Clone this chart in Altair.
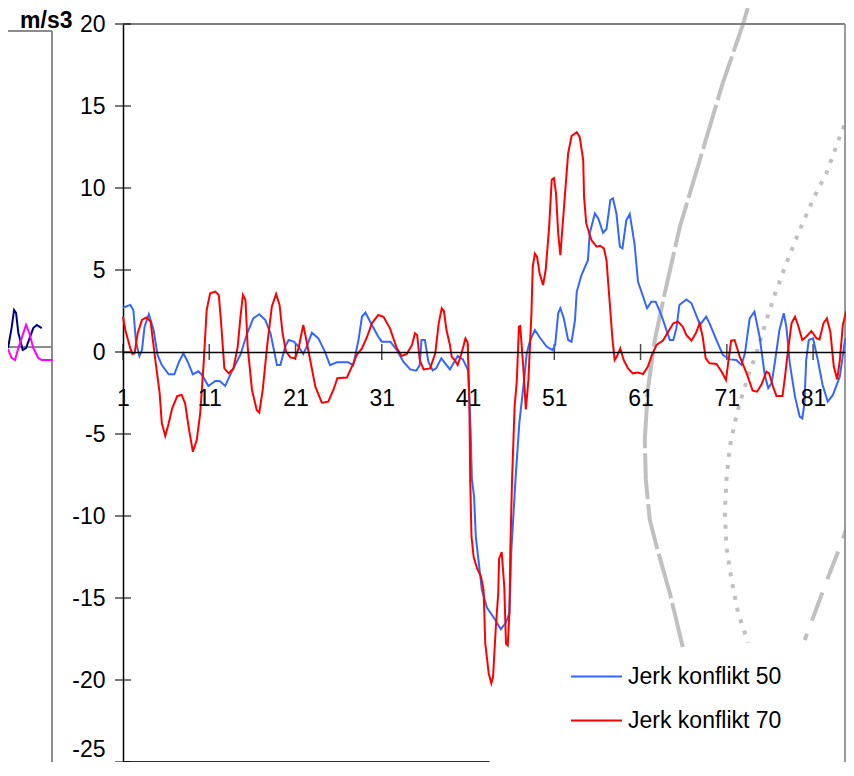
import altair as alt
import pandas as pd

# ---------------- data ----------------
series_names = ["Jerk konflikt 50", "Jerk konflikt 70"]
series_colors = ["#3366FF", "#FF0000"]

blue_x = [1.0, 1.85, 2.2, 2.5, 2.9, 3.2, 3.5, 4.0, 4.55, 5.0, 5.5, 6.3, 6.95, 7.5, 8.0, 8.5, 9.1, 9.75,
          10.15, 10.9, 11.7, 12.2, 12.85, 13.6, 14.6, 15.4, 16.1, 16.8, 17.5, 18.1, 18.85, 19.25, 19.8,
          20.2, 20.8, 21.35, 21.9, 22.3, 22.9, 23.65, 24.4, 25.0, 25.8, 27.1, 27.7, 28.3, 28.7, 29.1,
          29.85, 30.6, 31.0, 32.0, 32.75, 33.5, 34.3, 35.0, 35.4, 35.6, 36.0, 36.4, 36.9, 37.3, 37.9,
          38.9, 39.8, 40.4, 41.0, 41.3, 41.45, 41.7, 41.9, 42.3, 42.6, 43.2, 44.0, 44.8, 45.4, 45.8,
          46.0, 46.5, 46.95, 47.5, 47.8, 48.2, 48.75, 49.3, 50.1, 50.8, 51.1, 51.45, 51.7, 52.1, 52.6,
          53.0, 53.4, 53.6, 54.15, 54.9, 55.1, 55.7, 56.1, 56.65, 57.05, 57.5, 57.8, 58.2, 58.6, 58.9,
          59.35, 59.75, 60.3, 60.7, 61.3, 61.75, 62.25, 62.75, 63.4, 64.4, 64.8, 65.15, 65.5, 66.3,
          66.9, 67.9, 68.6, 69.0, 69.8, 70.55, 71.3, 72.1, 72.7, 73.1, 73.65, 74.2, 74.8, 75.4, 75.8,
          76.2, 76.55, 77.1, 77.6, 77.9, 78.3, 78.9, 79.45, 79.75, 80.0, 80.2, 80.5, 81.0, 81.55, 82.1,
          82.7, 83.3, 84.1, 84.7, 85.25, 85.6]
blue_y = [2.7, 2.87, 2.56, 0.63, -0.24, 0.12, 1.54, 2.3, 1.34, -0.18, -0.8, -1.36, -1.36, -0.59, -0.08,
          -0.59, -1.36, -1.18, -1.4, -2.07, -1.77, -1.77, -2.07, -1.2, -0.18, 1.14, 2.05, 2.3, 1.95, 1.14,
          -0.8, -0.8, 0.33, 0.73, 0.63, 0.33, -0.12, 0.33, 1.18, 0.83, 0.02, -0.8, -0.63, -0.63, -0.8,
          0.73, 2.15, 2.4, 1.65, 0.93, 0.63, 0.63, 0.12, -0.59, -1.06, -1.14, -0.8, 0.73, 0.73, -0.59,
          -1.12, -1.0, -0.39, -1.06, -0.24, -0.45, -1.1, -4.76, -7.8, -8.8, -11.26, -13.1, -14.5, -15.6,
          -16.2, -16.9, -16.5, -15.9, -12.3, -7.8, -4.3, -1.7, -0.1, 0.73, 1.34, 0.9, 0.33, 0.12, 0.43,
          2.36, 2.67, 2.06, 0.73, 0.63, 1.95, 3.67, 4.69, 5.6, 7.23, 8.45, 8.14, 7.27, 7.5, 9.27, 9.37,
          8.45, 6.42, 6.32, 8.04, 8.41, 6.6, 4.3, 3.37, 2.67, 3.07, 3.07, 2.26, 0.73, 0.73, 1.44, 2.87,
          3.2, 2.97, 1.65, 2.15, 1.75, 0.73, -0.18, -0.45, -0.49, -0.79, -0.08, 2.05, 2.46, 0.93, -1.4,
          -2.2, -1.9, -0.69, 1.34, 2.36, 1.54, -0.69, -2.72, -3.94, -4.05, -3.13, -0.49, 0.73, 0.83,
          -0.49, -2.0, -3.03, -2.62, -1.5, 0.73, 1.04, 1.14]

red_x = [1.0, 1.27, 1.85, 2.1, 2.35, 2.7, 3.2, 3.7, 4.2, 4.75, 5.25, 5.5, 5.9, 6.3, 6.7, 7.3, 7.8, 8.2,
         8.6, 9.1, 9.55, 9.95, 10.35, 10.7, 11.1, 11.7, 12.1, 12.35, 12.75, 13.25, 13.8, 14.3, 14.6,
         14.9, 15.2, 15.45, 15.95, 16.5, 16.8, 17.2, 17.7, 18.25, 18.75, 19.15, 19.5, 19.9, 20.4,
         20.95, 21.35, 21.7, 21.9, 22.1, 22.7, 23.3, 24.05, 24.8, 25.4, 25.85, 26.95, 27.7, 28.1, 28.7,
         29.3, 29.85, 30.6, 31.2, 31.95, 32.75, 33.3, 33.9, 34.5, 34.85, 35.1, 35.4, 35.85, 36.6, 37.2,
         37.6, 37.95, 38.2, 38.5, 38.9, 39.1, 39.45, 39.8, 40.25, 40.7, 40.95, 41.05, 41.15, 41.25,
         41.4, 41.65, 42.05, 42.5, 42.8, 43.0, 43.4, 43.7, 43.9, 44.2, 44.5, 44.6, 44.9, 45.2, 45.4,
         45.6, 45.8, 45.9, 46.1, 46.4, 46.65, 46.9, 47.05, 47.4, 47.7, 48.0, 48.35, 48.5, 48.75, 49.0,
         49.3, 49.7, 50.0, 50.4, 50.7, 50.95, 51.2, 51.45, 51.7, 52.1, 52.6, 53.0, 53.6, 53.95, 54.35,
         54.45, 54.7, 55.3, 55.9, 56.3, 56.75, 57.05, 57.4, 57.75, 58.0, 58.25, 58.65, 59.05, 59.55,
         60.1, 60.7, 61.3, 61.85, 62.3, 62.85, 63.6, 64.2, 64.8, 65.35, 65.9, 66.3, 66.9, 67.4, 67.85,
         68.2, 68.55, 69.0, 69.8, 70.4, 70.9, 71.15, 71.5, 71.9, 72.5, 73.3, 74.0, 74.5, 75.0, 75.6,
         75.9, 76.35, 76.75, 77.45, 77.7, 78.1, 78.5, 78.9, 79.25, 79.75, 80.2, 80.8, 81.4, 81.75,
         82.2, 82.6, 83.0, 83.4, 83.8, 84.1, 84.45, 84.8, 85.25, 85.6]
red_y = [2.15, 1.34, 0.22, -0.12, -0.08, 1.14, 1.95, 2.11, 1.85, -0.49, -2.52, -4.35, -5.12, -4.35,
         -3.43, -2.68, -2.62, -3.13, -4.55, -6.08, -5.37, -3.74, -0.69, 2.56, 3.58, 3.68, 3.48, 1.95,
         -1.0, -1.3, -1.0, 0.33, 2.05, 3.48, 3.17, 0.33, -2.3, -3.54, -3.7, -2.3, 0.33, 2.76, 3.54,
         2.87, 1.14, 0.02, -0.33, -0.39, 0.22, 1.14, 1.65, 1.14, -0.49, -2.11, -3.09, -3.03, -2.3,
         -1.6, -1.56, -0.69, -0.18, 0.22, 0.93, 1.75, 2.26, 2.15, 1.44, 0.22, -0.24, -0.12, 0.43,
         1.14, 1.04, -0.49, -1.06, -1.0, -0.08, 1.75, 2.66, 2.5, 1.34, 0.43, -0.28, -0.49, -0.79,
         -0.08, 0.83, 0.6, -1.1, -2.9, -7.8, -11.26, -12.5, -13.2, -13.7, -14.5, -17.8, -19.6, -20.2,
         -19.8, -16.95, -14.7, -12.6, -12.2, -14.3, -17.8, -17.9, -15.9, -12.1, -7.8, -3.3, -1.8, 1.54,
         1.58, -0.89, -3.5, -1.7, 2.36, 5.2, 6.0, 5.8, 4.79, 4.08, 5.0, 7.6, 10.5, 10.6, 9.67, 7.23,
         5.9, 8.66, 12.1, 13.17, 13.4, 13.1, 11.7, 9.47, 7.84, 6.83, 6.42, 6.48, 6.32, 5.6, 3.17, 0.73,
         -0.49, -0.28, 0.22, -0.5, -1.0, -1.3, -1.25, -1.35, -0.89, -0.2, 0.43, 0.7, 1.24, 1.75, 1.85,
         1.54, 1.04, 0.69, 1.14, 1.75, 0.93, -0.39, -0.69, -0.73, -1.2, -1.7, -0.69, 0.69, 0.73, -0.28,
         -1.3, -2.36, -2.42, -2.0, -1.2, -1.3, -2.1, -2.68, -2.68, -1.7, 0.12, 1.75, 2.15, 1.65, 0.73,
         0.93, 1.28, 0.83, 0.77, 1.75, 2.05, 1.24, -0.89, -1.67, -0.49, 1.65, 2.4, 2.15, 1.85]

x_labels = [1, 11, 21, 31, 41, 51, 61, 71, 81]
y_ticks = [-25, -20, -15, -10, -5, 0, 5, 10, 15, 20]
x_domain = [1, 84.7]
y_domain = [-25, 20]
y_unit = "m/s3"

# background drawing (grey dashed / dotted curves behind the chart), in chart units
curveA_x = [73.43, 72.85, 70.53, 67.87, 65.55, 63.81, 62.65, 61.84, 61.49, 61.61, 62.07, 62.88, 64.39, 65.89]
curveA_y = [20.98, 19.94, 16.40, 11.71, 7.62, 3.60, 0.73, -2.32, -5.37, -7.80, -10.24, -11.89, -14.70, -17.99]
curveB_x = [85.60, 84.09, 82.55, 80.96, 79.45, 77.91, 76.55, 75.60, 74.44, 73.43, 72.50, 71.92, 71.34,
            70.96, 70.77, 70.96, 71.54, 72.31, 73.47]
curveB_y = [15.18, 13.11, 10.91, 9.27, 7.44, 5.43, 3.48, 1.95, -0.06, -1.52, -3.11, -4.33, -5.79,
            -7.80, -9.82, -11.89, -13.90, -15.91, -17.74]
curveC_x = [85.60, 84.29, 82.93, 81.54, 80.03]
curveC_y = [-9.63, -11.65, -13.48, -15.43, -17.56]

# fragment of the neighbouring chart at the left edge, in chart units
frag_x1 = [-12.33, -7.23, -8.27, -12.33]
frag_x2 = [-7.23, -7.23, -7.23, -7.23]
frag_y1 = [19.57, 19.57, -25.06, 0.30]
frag_y2 = [19.57, -25.06, -25.06, 0.30]
navy_x = [-12.33, -11.90, -11.63, -11.40, -11.13, -10.62, -10.24, -9.78, -9.40, -9.00, -8.42]
navy_y = [0.24, 1.52, 2.56, 2.38, 1.16, 0.12, 0.24, 0.91, 1.46, 1.65, 1.46]
magenta_x = [-12.33, -11.90, -11.52, -11.13, -10.55, -10.24, -9.86, -9.40, -8.82, -8.42, -7.11]
magenta_y = [0.18, -0.37, -0.49, 0.24, 1.16, 1.65, 1.16, 0.24, -0.37, -0.49, -0.49]

# plot-area border pieces (top, right, bottom-left part)
border_x1 = [1, 84.7, 1]
border_x2 = [84.7, 84.7, 43.5]
border_y1 = [20, 20, -25]
border_y2 = [20, -25, -25]
border_color = ["#808080", "#909090", "#333333"]

FONT = "Liberation Sans"

# ---------------- chart ----------------
xs = alt.Scale(domain=x_domain, nice=False, zero=False)
ys = alt.Scale(domain=y_domain, nice=False, zero=False)

x_axis = alt.Axis(
    values=x_labels, offset=-410, ticks=False, tickSize=0, labelPadding=35,
    labelFont=FONT, labelFontSize=23, labelColor="black", labelAlign="center",
    labelBaseline="top", labelFlush=False, labelOverlap=False, zindex=1,
    domainColor="black", domainWidth=1.5, grid=False, title=None)
y_axis = alt.Axis(
    values=y_ticks, ticks=False, tickSize=0, labelPadding=18,
    labelFont=FONT, labelFontSize=23, labelColor="black",
    labelExpr="datum.value < 0 ? '-' + abs(datum.value) : '' + datum.value",
    labelBaseline={"condition": {"test": "datum.value == -25", "value": "bottom"}, "value": "middle"},
    labelOffset={"condition": {"test": "datum.value == -25", "value": -1}, "value": 0},
    labelFlush=False, labelOverlap=False,
    domainColor="black", domainWidth=1.5, grid=False,
    title=y_unit, titleAngle=0, titleAlign="right", titleBaseline="alphabetic",
    titleX=-51, titleY=3, titleFont=FONT, titleFontSize=23, titleFontWeight="bold",
    titleColor="black")


def X(field="x"):
    return alt.X(f"{field}:Q", scale=xs, axis=x_axis)


def Y(field="y"):
    return alt.Y(f"{field}:Q", scale=ys, axis=y_axis)


def curve(xv, yv):
    return pd.DataFrame({"x": xv, "y": yv, "i": list(range(len(xv)))})


grey = "#C0C0C0"
layers = []
layers.append(alt.Chart(curve(curveA_x, curveA_y)).mark_line(color=grey, strokeWidth=4, strokeDash=[46, 5])
              .encode(x=X(), y=Y(), order="i:Q"))
layers.append(alt.Chart(curve(curveB_x, curveB_y)).mark_line(color=grey, strokeWidth=4, strokeDash=[4, 8])
              .encode(x=X(), y=Y(), order="i:Q"))
layers.append(alt.Chart(curve(curveC_x, curveC_y)).mark_line(color=grey, strokeWidth=4, strokeDash=[30, 14])
              .encode(x=X(), y=Y(), order="i:Q"))

frag = pd.DataFrame({"x": frag_x1, "x2": frag_x2, "y": frag_y1, "y2": frag_y2})
layers.append(alt.Chart(frag).mark_rule(color="#8C8C8C", strokeWidth=2)
              .encode(x=X(), x2="x2:Q", y=Y(), y2="y2:Q"))
layers.append(alt.Chart(curve(navy_x, navy_y)).mark_line(color="#000080", strokeWidth=2)
              .encode(x=X(), y=Y(), order="i:Q"))
layers.append(alt.Chart(curve(magenta_x, magenta_y)).mark_line(color="#FF00FF", strokeWidth=2)
              .encode(x=X(), y=Y(), order="i:Q"))

border = pd.DataFrame({"x": border_x1, "x2": border_x2, "y": border_y1, "y2": border_y2, "c": border_color})
layers.append(alt.Chart(border).mark_rule(strokeWidth=1.8)
              .encode(x=X(), x2="x2:Q", y=Y(), y2="y2:Q", color=alt.Color("c:N", scale=None)))

xt = pd.DataFrame({"x": x_labels, "y": [0] * len(x_labels)})
layers.append(alt.Chart(xt).mark_tick(orient="vertical", size=16, thickness=1.5, color="black")
              .encode(x=X(), y=Y()))
yt = pd.DataFrame({"x": [1] * len(y_ticks), "y": y_ticks})
layers.append(alt.Chart(yt).mark_tick(orient="horizontal", size=16, thickness=1.5, color="black")
              .encode(x=X(), y=Y()))

df = pd.concat([
    pd.DataFrame({"x": blue_x, "y": blue_y, "series": series_names[0]}),
    pd.DataFrame({"x": red_x, "y": red_y, "series": series_names[1]}),
], ignore_index=True)

main = alt.Chart(df).mark_line(strokeWidth=2).encode(
    x=X(),
    y=Y(),
    color=alt.Color("series:N", scale=alt.Scale(domain=series_names, range=series_colors),
                    legend=alt.Legend(title=None, orient="none", legendX=447, legendY=626,
                                      symbolType="stroke", symbolSize=2601, symbolStrokeWidth=2,
                                      labelFont=FONT, labelFontSize=23, labelColor="black",
                                      labelOffset=5, rowPadding=5, padding=0, labelLimit=400)),
)
layers.append(main)

# plot area 722 px wide keeps the page within the 854 px window (8 px body margins)
chart = alt.layer(*layers).properties(
    width=722, height=738,
    autosize=alt.AutoSizeParams(type="none"),
    padding={"left": 115, "top": 16, "right": 1, "bottom": 0},
    background="white",
).configure_view(stroke=None)

chart.save("out.html", embed_options={"renderer": "svg", "actions": False})
